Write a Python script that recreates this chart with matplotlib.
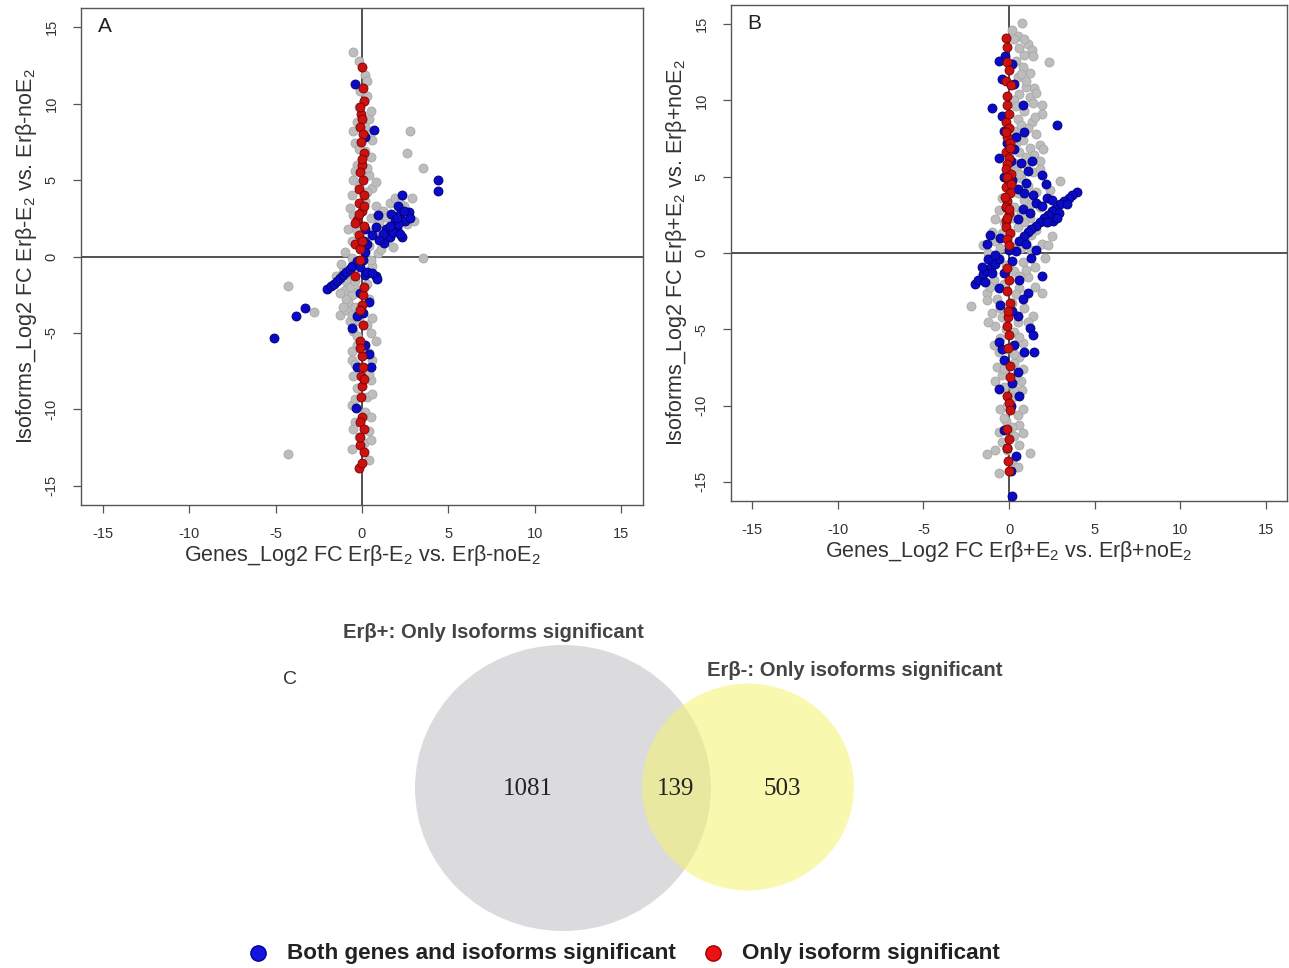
import matplotlib
matplotlib.use("Agg")
import matplotlib.pyplot as plt
from matplotlib.patches import Ellipse

plt.rcParams['font.family'] = ['Liberation Sans', 'DejaVu Sans']
plt.rcParams['mathtext.fontset'] = 'custom'
plt.rcParams['mathtext.rm'] = 'Liberation Sans'
plt.rcParams['mathtext.it'] = 'Liberation Sans:italic'
plt.rcParams['mathtext.bf'] = 'Liberation Sans:bold'

# ---------------- data ----------------
ticks = [-15, -10, -5, 0, 5, 10, 15]
tick_labels = ["-15", "-10", "-5", "0", "5", "10", "15"]

# Panel A : ER beta negative (gray = not significant, blue = both, red = only isoform)
A_gray = [(-0.5, 13.4), (0.2, 11.9), (0.3, 10.5), (0.1, 10.2), (-0.2, 9.8), (0.4, 9.0), (-0.3, 8.8),
          (0.3, 8.0), (2.8, 8.2), (2.6, 6.8), (-0.4, 7.4), (0.2, 6.9), (0.5, 6.5), (-0.3, 6.0), (3.5, 5.8),
          (0.4, 5.3), (-0.5, 5.0), (0.6, 4.5), (-0.6, 4.0), (0.3, 4.2), (2.9, 3.8), (1.6, 3.5), (-0.7, 3.2),
          (0.8, 3.3), (1.2, 3.0), (-0.5, 2.7), (0.5, 2.5), (1.0, 2.2), (2.4, 3.3), (2.6, 2.1), (3.0, 2.3),
          (-0.8, 1.8), (0.7, 1.6), (1.5, 1.2), (1.8, 0.6), (-0.6, 1.0), (0.4, 0.7), (-1.0, 0.3), (0.9, 0.2),
          (3.5, -0.1), (-1.2, -0.5), (-0.8, -0.9), (0.6, -0.6), (-1.5, -1.3), (-0.9, -1.6), (-0.5, -1.2),
          (0.3, -1.8), (-1.0, -2.2), (-0.6, -2.5), (-4.3, -1.9), (-2.8, -3.6), (-1.3, -3.8), (-0.8, -3.0),
          (-0.4, -3.3), (0.4, -2.8), (-0.7, -4.2), (0.3, -4.5), (-0.5, -4.9), (0.8, -5.5), (0.5, -5.0),
          (-0.3, -5.8), (0.4, -6.3), (-0.6, -6.8), (0.2, -7.3), (-0.5, -7.8), (0.5, -8.1), (-0.3, -8.6),
          (0.3, -9.2), (-0.6, -9.7), (0.2, -10.2), (-0.4, -10.8), (0.4, -11.4), (-0.2, -11.8), (-4.3, -12.9),
          (-0.55, -12.6), (0.4, -13.3), (0.1, -12.2), (-0.9, -2.8), (-1.1, -1.0), (-0.3, -0.4), (-0.7, -2.0),
          (-0.4, -1.6), (-0.9, -3.5), (-0.2, -2.2),
          (-0.2, 12.8), (0.3, 11.5), (-0.1, 10.8), (0.5, 9.5), (0.2, 8.5), (-0.5, 8.2), (0.6, 7.6),
          (-0.2, 7.0), (0.3, 5.8), (-0.4, 5.6), (0.8, 4.9), (-0.2, 4.6), (1.4, 2.6), (1.9, 3.8), (2.2, 3.5),
          (0.2, 3.6), (-0.3, 1.7), (1.1, 0.5), (0.5, -0.2), (-0.6, -0.1), (-1.3, -2.4), (-1.1, -3.3),
          (-0.6, -3.8), (-0.2, -4.2), (0.6, -4.0), (-0.3, -5.2), (0.6, -6.8), (-0.4, -7.0), (0.4, -7.7),
          (0.6, -9.0), (-0.4, -9.3), (0.5, -10.5), (-0.5, -11.3), (0.5, -12.0), (-0.6, -6.2)]
A_blue = [(-0.4, 11.3), (0.7, 8.3), (0.2, 7.8), (4.4, 5.0), (4.4, 4.3), (-5.1, -5.3), (-3.8, -3.9),
          (-3.3, -3.4), (-2.0, -2.1), (-1.8, -1.95), (-1.6, -1.8), (-1.45, -1.6), (-1.3, -1.4), (-1.1, -1.2),
          (-0.9, -1.0), (-0.7, -0.8), (-0.55, -0.6), (-0.27, -0.3), (2.3, 4.0), (2.1, 3.3), (2.2, 2.8),
          (1.9, 2.3), (2.0, 1.8), (1.6, 1.3), (1.3, 0.9), (2.7, 2.9), (2.5, 2.3), (1.7, 2.8), (0.9, 2.7),
          (0.8, 1.9), (0.2, 1.8), (1.4, 1.8), (2.8, 2.5), (2.3, 1.3), (2.1, 2.1), (1.8, 1.6), (1.2, 1.5),
          (0.8, -1.3), (0.85, -1.5), (0.4, -3.0), (0.05, -3.7), (-0.3, -3.9), (-0.55, -4.7), (0.4, -6.4),
          (0.5, -7.2), (-0.3, -7.2), (-0.35, -9.9), (0.2, 0.3), (0.05, -0.2), (-0.1, -0.7), (0.2, -1.2),
          (0.3, 0.8), (0.1, 1.0),
          (2.4, 3.0), (2.0, 2.5), (1.6, 2.0), (2.2, 1.5), (1.0, 1.1), (0.6, 1.4), (0.3, -1.0), (0.6, -1.1),
          (-0.1, -2.4), (0.2, -5.8)]
A_red = [(0.0, 12.4), (0.05, 11.0), (-0.05, 9.3), (0.0, 9.0), (-0.1, 8.5), (0.05, 8.0), (-0.05, 7.5),
         (0.1, 6.8), (0.0, 6.0), (-0.1, 5.5), (0.05, 5.0), (-0.15, 4.4), (0.1, 4.0), (-0.2, 3.5), (0.0, 3.0),
         (-0.3, 2.4), (-0.4, 2.2), (0.1, 2.0), (-0.2, 1.4), (-0.4, 0.8), (-0.1, 0.5), (-0.4, -1.3),
         (0.05, -2.5), (0.0, -3.2), (-0.1, -3.5), (0.05, -4.5), (-0.1, -5.5), (0.0, -6.5), (0.05, -7.2),
         (-0.05, -7.8), (0.0, -8.5), (-0.05, -9.2), (0.0, -10.5), (-0.1, -10.8), (0.1, -11.3), (-0.1, -12.3),
         (0.1, -12.8), (-0.2, -13.8), (0.0, -13.5),
         (0.1, 10.2), (-0.1, 9.8), (0.0, 6.4), (0.1, 3.3), (-0.2, 2.8), (0.0, 1.0), (-0.1, -0.2),
         (0.1, -2.0), (-0.1, -6.0), (0.1, -8.0), (-0.1, -11.8)]

# Panel B : ER beta positive
B_gray = [(0.75, 15.1), (0.5, 14.2), (0.3, 14.0), (1.1, 13.7), (1.33, 13.3), (0.6, 13.4), (0.9, 13.0),
          (2.36, 12.5), (0.4, 12.6), (0.8, 12.2), (1.2, 11.8), (0.5, 11.5), (1.45, 10.8), (1.0, 10.9),
          (0.6, 10.4), (1.2, 10.2), (0.3, 10.0), (1.9, 9.7), (1.9, 9.1), (0.9, 9.3), (1.33, 8.6), (0.5, 8.8),
          (1.1, 8.2), (0.3, 8.0), (1.6, 7.8), (1.8, 7.1), (0.8, 7.4), (1.2, 6.9), (1.45, 6.4), (1.8, 6.0),
          (0.6, 6.6), (3.0, 4.7), (1.0, 5.8), (0.4, 5.5), (1.4, 5.3), (0.7, 4.9), (0.2, 4.6), (1.1, 4.4),
          (1.6, 4.0), (0.5, 3.9), (-0.4, 3.6), (0.9, 3.5), (1.3, 3.2), (0.3, 3.0), (-0.6, 2.8), (0.7, 2.6),
          (1.2, 2.3), (2.2, 2.0), (-0.3, 2.0), (0.5, 1.7), (1.6, 1.5), (2.5, 1.1), (-1.0, 1.4), (0.9, 1.0),
          (1.9, 0.6), (-1.5, 0.5), (-0.8, 0.8), (0.4, 0.4), (1.3, 0.2), (-1.2, 0.0), (2.1, -0.3), (-0.6, -0.3),
          (0.8, -0.6), (1.5, -0.9), (-1.4, -1.1), (0.3, -1.2), (1.1, -1.6), (-0.9, -1.8), (-0.3, -2.0),
          (1.9, -2.6), (0.6, -2.3), (-1.3, -2.6), (-2.24, -3.5), (-1.3, -3.1), (-0.7, -3.0), (0.2, -3.3),
          (0.9, -3.6), (-1.0, -3.9), (-0.4, -4.2), (0.5, -4.5), (1.4, -4.1), (-0.8, -4.8), (0.3, -5.2),
          (-0.5, -5.6), (0.8, -5.9), (-0.2, -6.3), (0.6, -6.8), (-0.7, -7.5), (0.3, -7.2), (-0.4, -8.0),
          (0.7, -8.4), (0.74, -9.0), (-0.3, -8.8), (0.2, -9.5), (-0.5, -10.2), (0.5, -10.6), (-0.2, -11.0),
          (0.6, -11.3), (-0.6, -11.7), (0.3, -12.0), (0.8, -11.8), (-0.4, -12.4), (-1.3, -13.2), (1.2, -13.1),
          (-0.57, -14.4), (0.2, -13.6), (-0.9, -0.6), (-0.5, 0.3), (0.6, -1.5), (-0.6, -6.5), (0.4, -8.1),
          (0.2, 14.6), (0.9, 14.0), (1.4, 12.9), (0.7, 11.7), (1.0, 11.3), (1.6, 10.5), (0.4, 9.6),
          (1.4, 9.8), (0.7, 8.4), (1.5, 8.9), (0.4, 7.2), (2.0, 6.8), (1.0, 6.3), (0.3, 5.9), (1.8, 5.5),
          (0.6, 5.2), (2.4, 4.1), (1.8, 3.0), (0.2, 2.3), (-0.8, 2.2), (0.9, 2.0), (-0.4, 1.3), (1.3, 1.2),
          (2.3, 0.5), (0.7, 0.3), (-0.2, -0.8), (1.0, -1.1), (-1.1, -2.2), (0.4, -2.7), (1.5, -2.2),
          (-0.5, -3.6), (1.1, -4.5), (-1.2, -4.5), (-0.2, -5.0), (0.6, -5.5), (-0.9, -6.0), (0.3, -6.6),
          (-0.3, -7.6), (0.8, -7.6), (-0.8, -8.4), (0.3, -8.9), (-0.1, -10.0), (0.8, -10.2), (-0.3, -10.8),
          (0.2, -11.4), (-0.1, -12.9), (0.6, -12.6), (-0.8, -12.9), (0.5, -14.0)]
B_blue = [(-0.26, 12.9), (0.2, 12.4), (-1.0, 9.5), (0.8, 9.7), (2.83, 8.4), (-0.4, 11.4), (-0.3, 8.0),
          (-0.1, 7.2), (0.3, 6.8), (-0.57, 6.2), (1.33, 6.0), (0.7, 5.9), (-0.3, 5.0), (1.9, 5.1), (1.0, 4.6),
          (2.17, 4.5), (0.5, 4.2), (1.4, 3.8), (-0.2, 3.0), (0.8, 2.9), (1.6, 3.3), (2.2, 3.6), (3.95, 4.0),
          (3.7, 3.8), (3.5, 3.6), (3.2, 3.4), (3.0, 3.2), (2.7, 2.9), (2.5, 2.75), (2.3, 2.5), (2.05, 2.3),
          (1.8, 2.0), (1.57, 1.8), (1.3, 1.6), (1.1, 1.4), (0.85, 1.1), (0.6, 0.8), (2.6, 2.1), (2.9, 2.6),
          (1.2, 2.6), (1.0, 0.6), (0.4, 0.1), (1.3, -0.3), (1.6, 0.2), (0.2, -0.5), (-2.0, -2.0),
          (-1.8, -1.8), (-1.5, -1.4), (-1.3, -1.2), (-1.05, -0.9), (-0.8, -0.7), (-0.57, -0.4), (-1.6, -0.9),
          (-1.2, -0.4), (-0.8, -0.1), (-1.1, 1.2), (-0.5, 1.0), (0.0, 0.2), (1.9, -1.5), (1.1, -2.6),
          (0.6, -1.8), (-0.6, -2.3), (0.5, -4.1), (1.2, -4.9), (0.2, -3.8), (-0.5, -3.4), (0.86, -6.5),
          (1.45, -6.5), (-0.6, -5.8), (0.3, -6.0), (-0.3, -7.0), (0.5, -7.8), (-0.6, -8.9), (0.2, -8.5),
          (0.14, -10.0), (-0.3, -11.6), (0.4, -13.3), (0.2, -15.9), (-0.1, -12.8), (0.1, -14.3),
          (-0.6, 12.6), (0.3, 11.1), (-0.4, 9.0), (0.9, 7.9), (0.4, 7.6), (0.1, 6.0), (1.1, 5.4), (0.2, 4.8),
          (0.9, 3.9), (2.5, 3.5), (1.9, 3.1), (3.4, 3.2), (2.2, 2.0), (2.8, 2.3), (0.5, 2.2), (-1.4, -1.9),
          (-1.0, -1.3), (-1.3, 0.6), (-0.3, -1.3), (0.8, -3.0), (1.4, -5.4), (-0.4, -6.3), (0.6, -9.4)]
B_red = [(-0.2, 14.1), (-0.1, 12.5), (-0.2, 11.3), (0.1, 11.0), (-0.1, 10.3), (-0.2, 8.6), (0.0, 8.2),
         (-0.1, 7.6), (0.05, 7.2), (-0.15, 6.6), (0.0, 6.2), (-0.1, 5.8), (-0.2, 5.5), (0.1, 5.2),
         (-0.05, 4.8), (-0.15, 4.3), (0.05, 3.9), (-0.1, 3.4), (-0.2, 3.0), (0.0, 2.6), (-0.15, 2.1),
         (-0.2, 1.7), (0.05, 1.3), (-0.1, 0.9), (-0.1, -1.0), (0.0, -1.8), (-0.1, -2.5), (0.05, -3.3),
         (-0.05, -4.2), (-0.1, -4.8), (0.0, -5.4), (-0.05, -6.2), (0.05, -7.4), (-0.1, -9.4), (0.0, -9.8),
         (0.05, -10.3), (-0.1, -11.5), (0.0, -12.2), (-0.05, -13.6), (0.0, -14.3),
         (-0.1, 13.5), (0.0, 12.0), (-0.1, 9.7), (0.0, 9.1), (-0.2, 7.9), (0.05, 6.9), (-0.1, 5.0),
         (0.1, 4.5), (-0.25, 3.7), (0.0, 2.9), (-0.1, 2.3), (0.0, 0.5), (-0.05, -3.8), (0.05, -8.1),
         (-0.1, -12.8)]

# Venn diagram (panel C)
venn_set_names = ["Er\u03b2+: Only Isoforms significant", "Er\u03b2-: Only isoforms significant"]
venn_counts = ["1081", "139", "503"]

legend_labels = ["Both genes and isoforms significant", "Only isoform significant"]

# ---------------- figure ----------------
W, H = 1289, 968
fig = plt.figure(figsize=(W / 100, H / 100), dpi=100)


def px_axes(left, top, right, bottom):
    return fig.add_axes([left / W, 1 - bottom / H, (right - left) / W, (bottom - top) / H])


GRAY = '#bdbdbd'
BLUE = '#0a0ac8'
RED = '#cc1111'


def scatter_panel(ax, gray, blue, red, letter, xlab, ylab):
    lim = 16.25
    for pts, fc, ec, z in [(gray, GRAY, '#a8a8a8', 2), (blue, BLUE, '#00006e', 3), (red, RED, '#7a0000', 4)]:
        xs = [p[0] for p in pts]
        ys = [p[1] for p in pts]
        ax.scatter(xs, ys, s=42, c=fc, edgecolors=ec, linewidths=0.6, zorder=z)
    ax.axhline(0, color='#333333', lw=1.2, zorder=1)
    ax.axvline(0, color='#333333', lw=1.2, zorder=1)
    ax.set_xlim(-lim, lim)
    ax.set_ylim(-lim, lim)
    ax.set_xticks(ticks)
    ax.set_xticklabels(tick_labels)
    ax.set_yticks(ticks)
    ax.set_yticklabels(tick_labels, rotation=90, va='center')
    ax.tick_params(axis='both', direction='out', length=6, width=0.9, color='#555555',
                   labelsize=10.5, labelcolor='#333333', pad=10)
    for sp in ax.spines.values():
        sp.set_color('#555555')
        sp.set_linewidth(1.0)
    ax.set_xlabel(xlab, fontsize=15.5, color='#333333', labelpad=1)
    ax.set_ylabel(ylab, fontsize=15.5, color='#333333', labelpad=4)
    ax.text(0.042, 0.962, letter, transform=ax.transAxes, fontsize=15, color='#222222',
            ha='center', va='center')


axA = px_axes(81, 8, 643, 505)
scatter_panel(axA, A_gray, A_blue, A_red, 'A',
              "Genes_Log2 FC Er\u03b2-E$_2$ vs. Er\u03b2-noE$_2$",
              "Isoforms_Log2 FC Er\u03b2-E$_2$ vs. Er\u03b2-noE$_2$")

axB = px_axes(731, 5, 1287, 501)
scatter_panel(axB, B_gray, B_blue, B_red, 'B',
              "Genes_Log2 FC Er\u03b2+E$_2$ vs. Er\u03b2+noE$_2$",
              "Isoforms_Log2 FC Er\u03b2+E$_2$ vs. Er\u03b2+noE$_2$")

# overlay axes in pixel coordinates for the Venn diagram and legend
ov = fig.add_axes([0, 0, 1, 1], zorder=-1)
ov.set_xlim(0, W)
ov.set_ylim(H, 0)
ov.axis('off')

ov.add_patch(Ellipse((563, 788), 296, 286, facecolor='#dbdbdd', edgecolor='none'))
ov.add_patch(Ellipse((748, 787), 212, 207, facecolor='#f4f46e', edgecolor='none', alpha=0.55))

ov.text(493, 632, venn_set_names[0], fontsize=14.6, color='#444444', ha='center', va='center',
        fontweight='bold')
ov.text(855, 670, venn_set_names[1], fontsize=14.6, color='#444444', ha='center', va='center',
        fontweight='bold')
ov.text(290, 680, 'C', fontsize=14, color='#333333', ha='center', va='center')

serif = ['Liberation Serif', 'DejaVu Serif']
for lab, xpos in zip(venn_counts, [528, 676, 782]):
    ov.text(xpos, 789, lab, fontsize=18, color='#222222', ha='center', va='center', family=serif)

# legend
ov.plot([258], [953], 'o', ms=11, color='#1515e0', mec='#0000a0')
ov.text(287, 953, legend_labels[0], fontsize=16.2, fontweight='bold', color='#222222',
        ha='left', va='center')
ov.plot([713], [953], 'o', ms=11, color='#ee1111', mec='#a00000')
ov.text(742, 953, legend_labels[1], fontsize=16.2, fontweight='bold', color='#222222',
        ha='left', va='center')

fig.savefig('out.png', dpi=100)
